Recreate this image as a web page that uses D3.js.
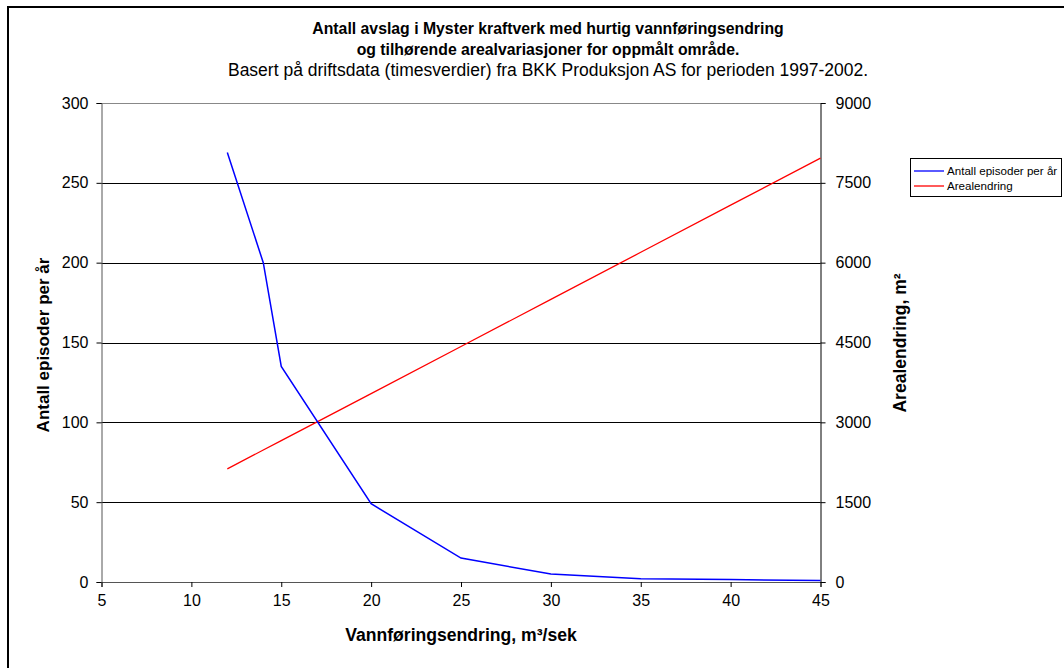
<!DOCTYPE html>
<html><head><meta charset="utf-8">
<script src="https://cdn.jsdelivr.net/npm/d3@7/dist/d3.min.js"></script>
<style>body{margin:0;background:#fff}svg{display:block;font-family:"Liberation Sans",Arial,sans-serif}</style>
</head><body>
<svg id="c" width="1064" height="668"></svg>
<script>
const flowChange = [12, 14, 15, 20, 25, 30, 35, 40, 45];
const episodesPerYear = [269, 200, 135, 49, 15, 5, 2, 1.5, 1];
const areaChange = [2125, 2480, 2655, 3540, 4425, 5310, 6195, 7080, 7965];
const xTicks = [5, 10, 15, 20, 25, 30, 35, 40, 45];
const yLeftTicks = [0, 50, 100, 150, 200, 250, 300];
const yRightTicks = [0, 1500, 3000, 4500, 6000, 7500, 9000];
const seriesNames = ["Antall episoder per år", "Arealendring"];
const titleLines = ["Antall avslag i Myster kraftverk med hurtig vannføringsendring",
  "og tilhørende arealvariasjoner for oppmålt område.",
  "Basert på driftsdata (timesverdier) fra BKK Produksjon AS for perioden 1997-2002."];

const svg = d3.select("#c");
const L = 101.5, R = 820.5, T = 103, B = 582;
const x = d3.scaleLinear().domain([5, 45]).range([L, R]);
const yL = d3.scaleLinear().domain([0, 300]).range([B, T]);
const yR = d3.scaleLinear().domain([0, 9000]).range([B, T]);

// outer border
svg.append("rect").attr("x", 8).attr("y", 7).attr("width", 1070).attr("height", 680)
  .attr("fill", "none").attr("stroke", "#000").attr("stroke-width", 2);

// gridlines
svg.append("g").selectAll("line").data(yLeftTicks.filter(d => d > 0)).join("line")
  .attr("x1", L).attr("x2", R).attr("y1", d => Math.round(yL(d)) + 0.5).attr("y2", d => Math.round(yL(d)) + 0.5)
  .attr("stroke", d => d === 300 ? "#888" : "#000").attr("stroke-width", 1);

// axes
const fmt = d3.format("d");
const gx = svg.append("g").attr("transform", `translate(0,${B})`)
  .call(d3.axisBottom(x).tickValues(xTicks).tickFormat(fmt).tickSize(5).tickPadding(8));
const gl = svg.append("g").attr("transform", `translate(${L},0)`)
  .call(d3.axisLeft(yL).tickValues(yLeftTicks).tickFormat(fmt).tickSize(5).tickPadding(8));
const gr = svg.append("g").attr("transform", `translate(${R},0)`)
  .call(d3.axisRight(yR).tickValues(yRightTicks).tickFormat(fmt).tickSize(5).tickPadding(10));
[gx, gl, gr].forEach(g => {
  g.selectAll("text").attr("font-size", 16).attr("fill", "#000").attr("font-family", "Liberation Sans, Arial, sans-serif");
  g.selectAll("line").attr("stroke", "#000");
  g.select(".domain").attr("stroke", "#000");
});
gx.select(".domain").attr("stroke", "#555");
gl.select(".domain").attr("stroke", "#555");

// lines
const lineL = d3.line().x((d, i) => x(flowChange[i])).y(d => yL(d));
const lineR = d3.line().x((d, i) => x(flowChange[i])).y(d => yR(d));
svg.append("path").attr("d", lineR(areaChange)).attr("fill", "none").attr("stroke", "#ff0000").attr("stroke-width", 1.3);
svg.append("path").attr("d", lineL(episodesPerYear)).attr("fill", "none").attr("stroke", "#0000ff").attr("stroke-width", 1.5);

// titles
const tt = svg.append("g").attr("text-anchor", "middle");
tt.append("text").attr("x", 548).attr("y", 34).attr("font-size", 15.8).attr("font-weight", "bold").text(titleLines[0]);
tt.append("text").attr("x", 548).attr("y", 55).attr("font-size", 15.8).attr("font-weight", "bold").text(titleLines[1]);
tt.append("text").attr("x", 548).attr("y", 76).attr("font-size", 17.5).text(titleLines[2]);

svg.append("text").attr("x", 461).attr("y", 641).attr("text-anchor", "middle")
  .attr("font-size", 17.6).attr("font-weight", "bold").text("Vannføringsendring, m³/sek");
svg.append("text").attr("transform", "translate(49,345) rotate(-90)").attr("text-anchor", "middle")
  .attr("font-size", 17).attr("font-weight", "bold").text(seriesNames[0]);
svg.append("text").attr("transform", "translate(906,343) rotate(-90)").attr("text-anchor", "middle")
  .attr("font-size", 17.5).attr("font-weight", "bold").text("Arealendring, m²");

// legend
const lg = svg.append("g");
lg.append("rect").attr("x", 910.5).attr("y", 158.5).attr("width", 151).attr("height", 38)
  .attr("fill", "#fff").attr("stroke", "#000").attr("stroke-width", 1);
const colors = ["#0000ff", "#ff0000"];
seriesNames.forEach((n, i) => {
  const yy = 171 + i * 15;
  lg.append("line").attr("x1", 914).attr("x2", 944).attr("y1", yy).attr("y2", yy).attr("stroke", colors[i]).attr("stroke-width", 1.3);
  lg.append("text").attr("x", 947).attr("y", yy + 4).attr("font-size", 11.6).text(n);
});
</script>
</body></html>
